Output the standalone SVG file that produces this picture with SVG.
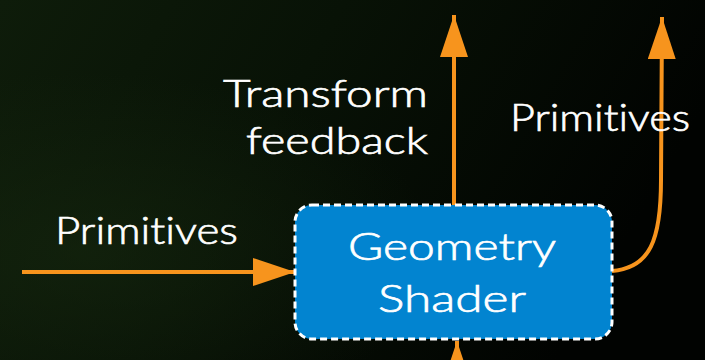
<svg xmlns="http://www.w3.org/2000/svg" width="705" height="360" viewBox="0 0 705 360">
  <defs>
    <linearGradient id="bg" x1="0" y1="0" x2="1" y2="0.3">
      <stop offset="0" stop-color="#0e1c0a"/>
      <stop offset="0.45" stop-color="#081206"/>
      <stop offset="1" stop-color="#010301"/>
    </linearGradient>
    <radialGradient id="glow" cx="0.12" cy="0.7" r="0.5">
      <stop offset="0" stop-color="#16280f" stop-opacity="0.6"/>
      <stop offset="1" stop-color="#16280f" stop-opacity="0"/>
    </radialGradient>
    <marker id="head" viewBox="0 0 42 28" refX="42" refY="14" markerWidth="42" markerHeight="28" markerUnits="userSpaceOnUse" orient="auto">
      <path d="M0,0 L42,14 L0,28 Z" fill="#f7941d"/>
    </marker>
  </defs>
  <style>
    .lbl { font-family: Lato, "Open Sans", sans-serif; font-weight: 300; font-variant-ligatures: none; fill: #ffffff; stroke: #ffffff; stroke-width: 0.7; font-size: 38px; }
    .edge { fill: none; stroke: #f7941d; stroke-width: 4; }
  </style>

  <!-- background -->
  <rect width="705" height="360" fill="url(#bg)"/>
  <rect width="705" height="360" fill="url(#glow)"/>

  <!-- connectors -->
  <g id="connectors">
    <line class="edge" x1="22" y1="272" x2="295" y2="272" marker-end="url(#head)"/>
    <line class="edge" x1="454" y1="205" x2="454" y2="15" marker-end="url(#head)"/>
    <path class="edge" d="M612,271 C650,268 661,240 661,180 L662,17" marker-end="url(#head)"/>
    <line class="edge" x1="457" y1="400" x2="457" y2="341" marker-end="url(#head)"/>
  </g>

  <!-- geometry shader node -->
  <g id="geometry-shader">
    <rect x="295" y="205" width="317" height="134" rx="17" fill="#0284d0" stroke="#ffffff" stroke-width="3" stroke-dasharray="7 4"/>
    <text class="lbl" x="452" y="260" text-anchor="middle" font-size="42" textLength="208" lengthAdjust="spacingAndGlyphs">Geometry</text>
    <text class="lbl" x="452" y="312" text-anchor="middle" font-size="42" textLength="148" lengthAdjust="spacingAndGlyphs">Shader</text>
  </g>

  <!-- edge labels -->
  <g id="label-primitives-in">
    <text class="lbl" x="55" y="244" textLength="183" lengthAdjust="spacingAndGlyphs">Primitives</text>
  </g>
  <g id="label-transform-feedback">
    <text class="lbl" x="223" y="107" textLength="205" lengthAdjust="spacingAndGlyphs">Transform</text>
    <text class="lbl" x="246" y="154" textLength="182" lengthAdjust="spacingAndGlyphs">feedback</text>
  </g>
  <g id="label-primitives-out">
    <text class="lbl" x="510" y="131" textLength="180" lengthAdjust="spacingAndGlyphs">Primitives</text>
  </g>
</svg>
